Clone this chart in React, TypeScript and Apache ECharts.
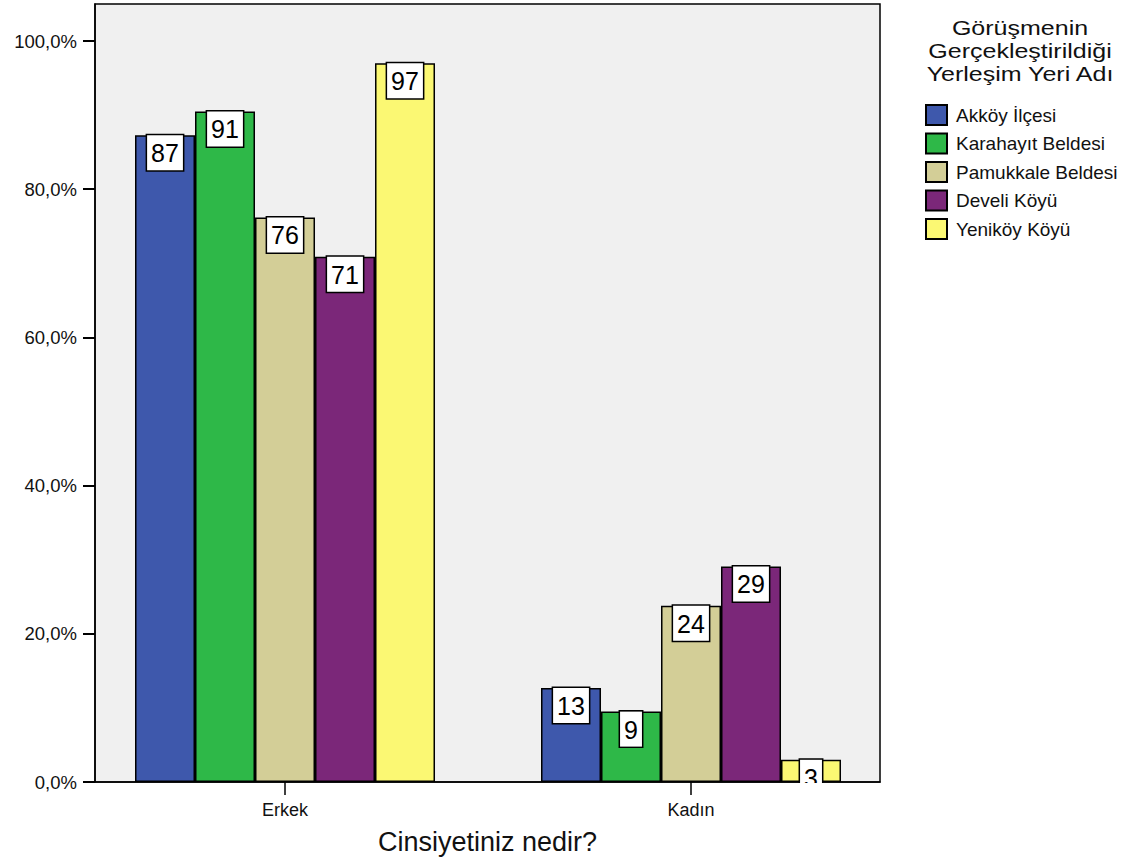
import React, { useEffect, useRef } from "react";
import * as echarts from "echarts";

const categories = ["Erkek", "Kadın"];
const seriesNames = ["Akköy İlçesi", "Karahayıt Beldesi", "Pamukkale Beldesi", "Develi Köyü", "Yeniköy Köyü"];
const akkoy = [87.3, 12.7];
const karahayit = [90.5, 9.5];
const pamukkale = [76.2, 23.8];
const develi = [70.9, 29.1];
const yenikoy = [97.0, 3.0];
const labelsAkkoy = ["87", "13"];
const labelsKarahayit = ["91", "9"];
const labelsPamukkale = ["76", "24"];
const labelsDeveli = ["71", "29"];
const labelsYenikoy = ["97", "3"];
const yTicks = [0, 20, 40, 60, 80, 100];
const colors = ["#3e58ac", "#2eb848", "#d3ce97", "#7b2779", "#fbf873"];
const legendTitle = "Görüşmenin\nGerçekleştirildiği\nYerleşim Yeri Adı";
const xAxisName = "Cinsiyetiniz nedir?";

const FONT = "'Liberation Sans', Arial, sans-serif";

export default function App() {
  const ref = useRef<HTMLDivElement>(null);
  useEffect(() => {
    if (!ref.current) return;
    const chart = echarts.init(ref.current, undefined, { renderer: "svg" });
    const values = [akkoy, karahayit, pamukkale, develi, yenikoy];
    const labels = [labelsAkkoy, labelsKarahayit, labelsPamukkale, labelsDeveli, labelsYenikoy];
    const series = seriesNames.map((name, i) => ({
      name,
      type: "bar",
      barWidth: 60,
      barGap: "0%",
      data: values[i].map((v, j) => [j, v]),
      itemStyle: { color: colors[i], borderColor: "#000", borderWidth: 1.5 },
      label: {
        show: true,
        position: "insideTop",
        distance: 0,
        formatter: (p: any) => labels[i][p.dataIndex],
        backgroundColor: "#fff",
        borderColor: "#000",
        borderWidth: 1.5,
        padding: [4, 4, 3, 4],
        fontSize: 25,
        lineHeight: 28,
        color: "#000",
        fontFamily: FONT,
      },
    }));
    chart.setOption({
      animation: false,
      backgroundColor: "#fff",
      textStyle: { fontFamily: FONT },
      grid: {
        left: 95,
        top: 4,
        width: 785,
        height: 778,
        show: true,
        backgroundColor: "#f0f0f0",
        borderColor: "#000",
        borderWidth: 1.5,
      },
      xAxis: {
        type: "value",
        min: -0.468,
        max: 1.4655,
        splitLine: { show: false },
        axisLine: { show: true, onZero: false, lineStyle: { color: "#000", width: 1.5 } },
        axisTick: { show: true, customValues: [0, 1], length: 13, lineStyle: { color: "#000", width: 1.5 } },
        axisLabel: {
          customValues: [0, 1],
          formatter: (v: number) => categories[Math.round(v)],
          fontSize: 18,
          color: "#111",
          margin: 19,
          fontFamily: FONT,
        },
        name: xAxisName,
        nameLocation: "middle",
        nameGap: 46,
        nameTextStyle: { fontSize: 27, color: "#111", fontFamily: FONT },
      },
      yAxis: {
        type: "value",
        min: 0,
        max: 105,
        splitLine: { show: false },
        axisLine: { show: true, onZero: false, lineStyle: { color: "#000", width: 1.5 } },
        axisTick: { show: true, customValues: yTicks, length: 12, lineStyle: { color: "#000", width: 2 } },
        axisLabel: {
          customValues: yTicks,
          formatter: (v: number) => v.toFixed(1).replace(".", ",") + "%",
          fontSize: 18.5,
          color: "#111",
          margin: 18,
          fontFamily: FONT,
        },
      },
      legend: {
        orient: "vertical",
        left: 920,
        top: 99,
        itemWidth: 21,
        itemHeight: 20,
        itemGap: 6.5,
        icon: "rect",
        textStyle: { fontSize: 19, lineHeight: 20, color: "#111", fontFamily: FONT, padding: [0, 0, 0, 4] },
        data: seriesNames,
      },
      graphic: [
        {
          type: "text",
          x: 1020,
          y: 16.5,
          scaleX: 1.22,
          z: 50,
          style: {
            text: legendTitle,
            fontSize: 20.5,
            lineHeight: 23,
            fill: "#111",
            fontFamily: FONT,
            align: "center",
            verticalAlign: "top",
          },
        },
        {
          type: "rect",
          zlevel: 5,
          z: 100,
          shape: { x: 790, y: 783, width: 89, height: 18 },
          style: { fill: "#fff" },
        },
      ],
      series,
    });
    return () => chart.dispose();
  }, []);
  return <div ref={ref} style={{ position: "fixed", left: 0, top: 0, width: 1129, height: 861 }} />;
}
